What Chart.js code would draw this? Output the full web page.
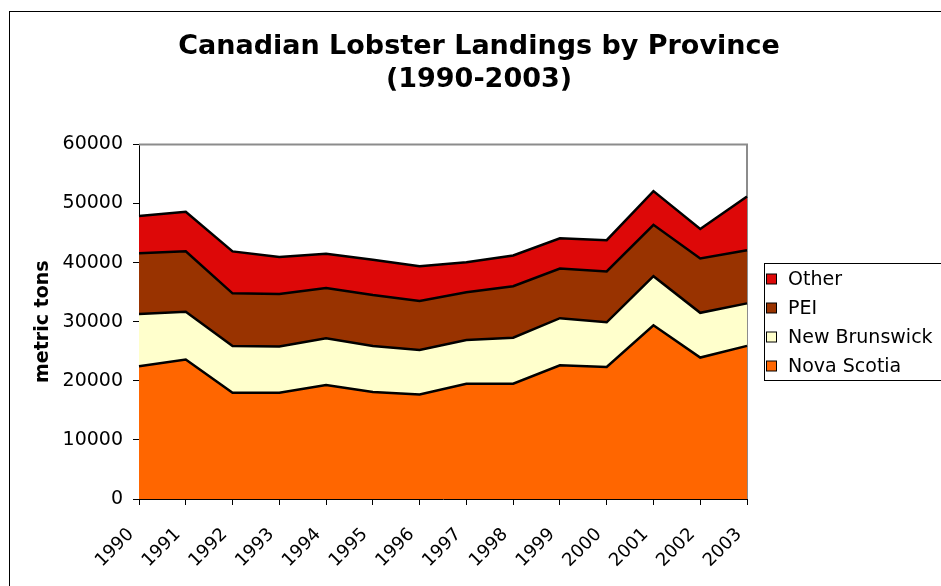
<!DOCTYPE html>
<html lang="en">
<head>
    <meta charset="UTF-8">
    <title>Canadian Lobster Landings by Province</title>
    <script src="https://cdn.jsdelivr.net/npm/chart.js"></script>
    <style>
        body { margin: 0; background: #fff; }
        #wrap { position: relative; width: 941px; height: 586px; }
    </style>
</head>
<body>
    <div id="wrap">
        <canvas id="myChart"></canvas>
    </div>

    <script>
        // Data (metric tons)
        const years = ['1990', '1991', '1992', '1993', '1994', '1995', '1996',
                       '1997', '1998', '1999', '2000', '2001', '2002', '2003'];
        const novaScotia = [22480, 23600, 17970, 17970, 19270, 18120, 17700,
                            19500, 19500, 22620, 22350, 29400, 23930, 25910];
        const newBrunswick = [8820, 8100, 7930, 7830, 7930, 7780, 7500,
                              7400, 7800, 7980, 7550, 8300, 7570, 7190];
        const pei = [10300, 10200, 8900, 8900, 8500, 8600, 8300,
                     8100, 8700, 8400, 8600, 8700, 9200, 9000];
        const other = [6300, 6700, 7100, 6250, 5800, 6000, 5900,
                       5050, 5200, 5100, 5300, 5700, 5000, 9100];
        const yTicks = [0, 10000, 20000, 30000, 40000, 50000, 60000];

        const FONT = 'DejaVu Sans, Verdana, sans-serif';

        // grey frame on the top and right of the plot area
        const plotFrame = {
            id: 'plotFrame',
            beforeDatasetsDraw(chart) {
                const a = chart.chartArea;
                const c = chart.ctx;
                c.save();
                c.strokeStyle = '#8c8c8c';
                c.lineWidth = 2;
                c.beginPath();
                c.moveTo(a.left, a.top);
                c.lineTo(a.right, a.top);
                c.lineTo(a.right, a.bottom);
                c.stroke();
                c.restore();
            }
        };

        // outer chart border + boxed legend (Other on top)
        const outerAndLegend = {
            id: 'outerAndLegend',
            afterDraw(chart) {
                const c = chart.ctx;
                c.save();
                c.strokeStyle = '#000';
                c.lineWidth = 1;
                c.strokeRect(9.5, 11.5, 1000, 1000);

                c.strokeStyle = '#000';
                c.strokeRect(764.5, 263.5, 200, 117);

                const items = chart.data.datasets.slice().reverse();
                c.font = '19px ' + FONT;
                c.textBaseline = 'middle';
                c.textAlign = 'left';
                items.forEach((ds, i) => {
                    const cy = 279 + i * 29;
                    c.fillStyle = ds.backgroundColor;
                    c.fillRect(766.5, cy - 5, 10, 10);
                    c.strokeRect(766.5, cy - 5, 10, 10);
                    c.fillStyle = '#000';
                    c.fillText(ds.label, 788, cy + 1);
                });
                c.restore();
            }
        };

        const ctx = document.getElementById('myChart').getContext('2d');
        const chart = new Chart(ctx, {
            type: 'line',
            data: {
                labels: years,
                datasets: [
                    { label: 'Nova Scotia', data: novaScotia, backgroundColor: '#FF6600', fill: 'origin' },
                    { label: 'New Brunswick', data: newBrunswick, backgroundColor: '#FFFFCC', fill: '-1' },
                    { label: 'PEI', data: pei, backgroundColor: '#993300', fill: '-1' },
                    { label: 'Other', data: other, backgroundColor: '#DD0808', fill: '-1' }
                ]
            },
            options: {
                responsive: true,
                maintainAspectRatio: false,
                animation: false,
                layout: { padding: { left: 17, right: 0, top: 0, bottom: 0 } },
                elements: {
                    line: { borderColor: '#000', borderWidth: 2.5, tension: 0 },
                    point: { radius: 0, hoverRadius: 0 }
                },
                plugins: {
                    legend: { display: false },
                    tooltip: { enabled: false },
                    title: {
                        display: true,
                        text: ['Canadian Lobster Landings by Province', '(1990-2003)'],
                        color: '#000',
                        font: { family: FONT, size: 27, weight: 'bold', lineHeight: 1.2 },
                        padding: { top: 31, bottom: 48.6 }
                    }
                },
                scales: {
                    x: {
                        ticks: {
                            color: '#000',
                            font: { family: FONT, size: 18 },
                            minRotation: 45,
                            maxRotation: 45,
                            autoSkip: false,
                            padding: 19,
                            labelOffset: -8
                        },
                        grid: { drawOnChartArea: false, tickLength: 6, color: '#000' },
                        border: { color: '#000', width: 1 },
                        afterFit(s) { s.height = 87; }
                    },
                    y: {
                        stacked: true,
                        min: 0,
                        max: 60000,
                        afterBuildTicks(s) { s.ticks = yTicks.map(v => ({ value: v })); },
                        ticks: {
                            color: '#000',
                            font: { family: FONT, size: 19 },
                            padding: 10,
                            callback: v => String(v)
                        },
                        grid: { drawOnChartArea: false, tickLength: 6, color: '#000' },
                        border: { color: '#000', width: 1 },
                        title: {
                            display: true,
                            text: 'metric tons',
                            color: '#000',
                            font: { family: FONT, size: 19, weight: 'bold' },
                            padding: { top: 15, bottom: 0 }
                        },
                        afterFit(s) { s.width = 122; }
                    },
                    // keeps room on the right for the legend box
                    legendSpace: {
                        type: 'linear',
                        axis: 'y',
                        position: 'right',
                        grid: { display: false },
                        border: { display: false },
                        ticks: { display: false },
                        afterFit(s) { s.width = 194; }
                    }
                }
            },
            plugins: [plotFrame, outerAndLegend]
        });
    </script>
</body>
</html>
